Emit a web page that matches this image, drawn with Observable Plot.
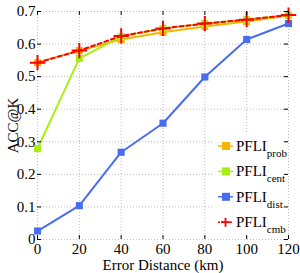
<!DOCTYPE html>
<html><head><meta charset="utf-8">
<script src="https://cdn.jsdelivr.net/npm/d3@7"></script>
<script src="https://cdn.jsdelivr.net/npm/@observablehq/plot@0.6"></script>
<style>body{margin:0;background:#fff;font-family:"Liberation Serif",serif}</style>
</head><body><div id="chart"></div>
<script>
const distances = [0, 20, 40, 60, 80, 100, 120];
const probVals = [0.543, 0.580, 0.614, 0.636, 0.654, 0.669, 0.688];
const centVals = [0.279, 0.556, 0.623, 0.648, 0.663, 0.675, 0.689];
const distVals = [0.026, 0.104, 0.268, 0.357, 0.499, 0.614, 0.663];
const cmbVals  = [0.543, 0.580, 0.625, 0.648, 0.663, 0.675, 0.689];
const seriesNames = ["prob", "cent", "dist", "cmb"];
const seriesColors = ["#f7b500", "#aaee11", "#4a6cf0", "#ff0000"];
const xTicks = [0, 20, 40, 60, 80, 100, 120];
const yTicks = [0, 0.1, 0.2, 0.3, 0.4, 0.5, 0.6, 0.7];

const mk = vals => distances.map((d, i) => ({d, v: vals[i]}));
const prob = mk(probVals), cent = mk(centVals), dist = mk(distVals), cmb = mk(cmbVals);

const plot = Plot.plot({
  width: 300, height: 273,
  marginLeft: 37, marginRight: 12, marginTop: 11, marginBottom: 34,
  style: {fontFamily: "Liberation Serif, serif", fontSize: "14px", background: "#fff", color: "#000"},
  x: {domain: [0, 120]},
  y: {domain: [0, 0.7]},
  marks: [
    Plot.gridX(xTicks, {stroke: "#bbb", strokeOpacity: 1, strokeDasharray: "1,2"}),
    Plot.gridY(yTicks, {stroke: "#bbb", strokeOpacity: 1, strokeDasharray: "1,2"}),
    Plot.axisX(xTicks, {tickSize: 0, tickPadding: 4, fontSize: 15, label: "Error Distance (km)", labelAnchor: "center", labelArrow: "none", labelOffset: 30}),
    Plot.axisY(yTicks, {tickSize: 0, tickPadding: 2, fontSize: 15, tickFormat: d => d === 0 ? "0" : d3.format(".1f")(d), label: "ACC@K", labelAnchor: "center", labelArrow: "none", labelOffset: 30}),
    Plot.line(prob, {x: "d", y: "v", stroke: seriesColors[0], strokeWidth: 2}),
    Plot.dot(prob, {x: "d", y: "v", symbol: "square", fill: seriesColors[0], r: 4}),
    Plot.line(cent, {x: "d", y: "v", stroke: seriesColors[1], strokeWidth: 2}),
    Plot.dot(cent, {x: "d", y: "v", symbol: "square", fill: seriesColors[1], r: 4}),
    Plot.line(dist, {x: "d", y: "v", stroke: seriesColors[2], strokeWidth: 2}),
    Plot.dot(dist, {x: "d", y: "v", symbol: "square", fill: seriesColors[2], r: 4}),
    Plot.line(cmb, {x: "d", y: "v", stroke: seriesColors[3], strokeWidth: 2, strokeDasharray: "4,3"}),
    Plot.dot(cmb, {x: "d", y: "v", symbol: "plus", stroke: seriesColors[3], strokeWidth: 2, r: 5})
  ]
});
document.getElementById("chart").appendChild(plot);

// legend
const svg = d3.select(plot);
const lg = svg.append("g").attr("font-family", "Liberation Serif, serif").attr("text-anchor", "start");
lg.append("rect").attr("x", 213).attr("y", 133).attr("width", 74).attr("height", 103).attr("fill", "#fff");
seriesNames.forEach((name, i) => {
  const y = 146 + i * 25.4;
  const g = lg.append("g").attr("transform", `translate(218,${y})`);
  g.append("line").attr("x1", 0).attr("x2", 15).attr("y1", 0).attr("y2", 0)
    .attr("stroke", seriesColors[i]).attr("stroke-width", 1.5)
    .attr("stroke-dasharray", name === "cmb" ? "2,2" : null);
  if (name === "cmb") {
    g.append("path").attr("d", "M7.5,-4.5V4.5M3,0H12").attr("stroke", seriesColors[i]).attr("stroke-width", 1.8);
  } else {
    g.append("rect").attr("x", 4).attr("y", -4).attr("width", 8).attr("height", 8).attr("fill", seriesColors[i]);
  }
  const t = g.append("text").attr("x", 18).attr("y", 5).attr("font-size", 15).attr("fill", "#000").attr("text-anchor", "start");
  t.append("tspan").text("PFLI");
  t.append("tspan").attr("dy", 6).attr("font-size", 11).text(name);
});

// frame and inward ticks drawn last, on top of the legend background
const over = Plot.plot({
  width: 300, height: 273,
  marginLeft: 37, marginRight: 12, marginTop: 11, marginBottom: 34,
  x: {domain: [0, 120], axis: null}, y: {domain: [0, 0.7], axis: null},
  marks: [
    Plot.ruleY(yTicks, {x1: 0, x2: 2, stroke: "#000"}),
    Plot.ruleY(yTicks, {x1: 118, x2: 120, stroke: "#000"}),
    Plot.ruleX(xTicks, {y1: 0, y2: 0.012, stroke: "#000"}),
    Plot.ruleX(xTicks, {y1: 0.688, y2: 0.7, stroke: "#000"}),
    Plot.frame({stroke: "#000"})
  ]
});
d3.select(over).selectAll(":scope > g").each(function() { plot.appendChild(this); });
</script></body></html>
